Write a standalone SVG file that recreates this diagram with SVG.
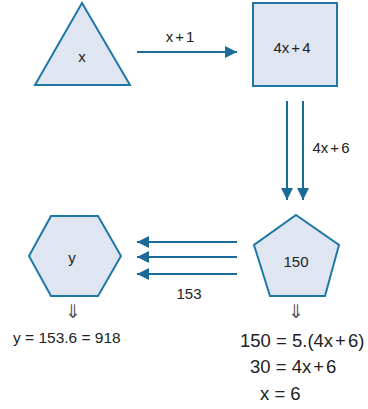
<svg xmlns="http://www.w3.org/2000/svg" width="368" height="409" viewBox="0 0 368 409">
<style>
.shape{fill:#dfe6f1;stroke:#1f77a8;stroke-width:2;stroke-linejoin:miter}
.t{font-family:"Liberation Sans",Arial,sans-serif;font-size:15px;fill:#222;text-anchor:middle}
.big{font-family:"Liberation Sans",Arial,sans-serif;font-size:18.5px;fill:#222}
.ln{stroke:#1a6b9a;stroke-width:2;fill:none}
.dar{font-family:"DejaVu Sans",sans-serif;font-size:19px;fill:#555;text-anchor:middle}
</style>
<defs>
<marker id="ah" viewBox="0 0 10 10" refX="10" refY="5" markerWidth="7.5" markerHeight="6" markerUnits="strokeWidth" orient="auto">
<path d="M0,0 L10,5 L0,10 Z" fill="#1a6b9a"/>
</marker>
</defs>
<rect width="368" height="409" fill="#fff"/>
<g id="triangle">
<polygon class="shape" points="82,3 130,85 35,85"/>
<text class="t" x="82" y="62">x</text>
</g>
<g id="square">
<rect class="shape" x="253" y="3" width="84" height="83"/>
<text class="t" x="292" y="53">4x<tspan dx="2">+</tspan><tspan dx="2">4</tspan></text>
</g>
<g id="pentagon">
<polygon class="shape" points="296,215 339,245 325,296 270,296 254,245"/>
<text class="t" x="296" y="267">150</text>
</g>
<g id="hexagon">
<polygon class="shape" points="29,256 51,216 98,216 121,256 98,296 51,296"/>
<text class="t" x="72" y="263">y</text>
</g>
<g id="connectors">
<line class="ln" x1="137" y1="52" x2="237" y2="52" marker-end="url(#ah)"/>
<line class="ln" x1="287" y1="101" x2="287" y2="200" marker-end="url(#ah)"/>
<line class="ln" x1="303" y1="101" x2="303" y2="200" marker-end="url(#ah)"/>
<line class="ln" x1="237" y1="242" x2="137" y2="242" marker-end="url(#ah)"/>
<line class="ln" x1="237" y1="257" x2="137" y2="257" marker-end="url(#ah)"/>
<line class="ln" x1="237" y1="274" x2="137" y2="274" marker-end="url(#ah)"/>
<text class="t" x="180" y="42">x<tspan dx="2">+</tspan><tspan dx="2">1</tspan></text>
<text class="t" x="331" y="153">4x<tspan dx="2">+</tspan><tspan dx="2">6</tspan></text>
<text class="t" x="189" y="299">153</text>
</g>
<g id="equations">
<text class="dar" x="73" y="318">⇓</text>
<text class="dar" x="296" y="318">⇓</text>
<text class="t" x="13" y="343" style="text-anchor:start;font-size:15.5px">y = 153.6 = 918</text>
<text class="big" x="240" y="347">150 = 5.(4x<tspan dx="2">+</tspan><tspan dx="2">6)</tspan></text>
<text class="big" x="250" y="373">30 = 4x<tspan dx="2">+</tspan><tspan dx="2">6</tspan></text>
<text class="big" x="260" y="400">x = 6</text>
</g>
</svg>
